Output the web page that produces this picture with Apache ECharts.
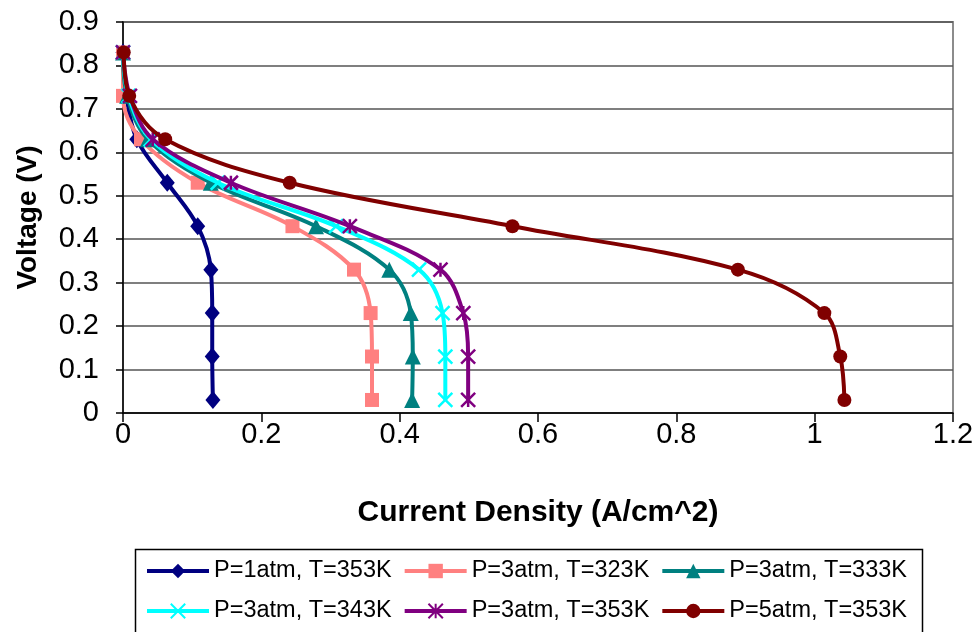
<!DOCTYPE html>
<html>
<head>
<meta charset="utf-8">
<script src="https://cdn.jsdelivr.net/npm/echarts@6/dist/echarts.min.js"></script>
<style>
  html, body { margin: 0; padding: 0; background: #fff; }
  #chart { width: 979px; height: 632px; }
</style>
</head>
<body>
<div id="chart"></div>
<script>
// Cell voltage levels (V), shared by every polarization curve
const voltage = [0.83, 0.73, 0.63, 0.53, 0.43, 0.33, 0.23, 0.13, 0.03];

// Current density (A/cm^2) at each voltage level
const p1T353 = [0, 0.005, 0.02, 0.064, 0.108, 0.127, 0.129, 0.129, 0.13];
const p3T323 = [0, 0, 0.026, 0.108, 0.245, 0.334, 0.358, 0.36, 0.36];
const p3T333 = [0, 0.006, 0.036, 0.127, 0.279, 0.385, 0.416, 0.419, 0.418];
const p3T343 = [0, 0.008, 0.04, 0.137, 0.308, 0.428, 0.462, 0.466, 0.466];
const p3T353 = [0, 0.01, 0.043, 0.156, 0.328, 0.459, 0.492, 0.499, 0.499];
const p5T353 = [0.001, 0.009, 0.061, 0.241, 0.563, 0.889, 1.014, 1.037, 1.043];

const seriesNames = [
  'P=1atm, T=353K', 'P=3atm, T=323K', 'P=3atm, T=333K',
  'P=3atm, T=343K', 'P=3atm, T=353K', 'P=5atm, T=353K'
];

const xTicks = { min: 0, max: 1.2, interval: 0.2 };
const yTicks = { min: 0, max: 0.9, interval: 0.1 };

const FONT = '"Liberation Sans", Arial, sans-serif';

function pairs(xs) {
  return xs.map((x, i) => [x, voltage[i]]);
}

const crossPath = 'path://M0,0L10,10M10,0L0,10';
const starPath = 'path://M0,0L10,10M10,0L0,10M5,0L5,10';

const styles = [
  { color: '#000080', symbol: 'diamond', size: [15, 18], stroke: false },
  { color: '#FF8080', symbol: 'rect', size: 14, stroke: false },
  { color: '#008080', symbol: 'triangle', size: 16, stroke: false },
  { color: '#00FFFF', symbol: crossPath, size: 14, stroke: true },
  { color: '#800080', symbol: starPath, size: 14, stroke: true },
  { color: '#800000', symbol: 'circle', size: 14, stroke: false }
];

const curves = [p1T353, p3T323, p3T333, p3T343, p3T353, p5T353];

const series = curves.map((xs, i) => {
  const s = styles[i];
  return {
    name: seriesNames[i],
    type: 'line',
    data: pairs(xs),
    smooth: 0.35,
    symbol: s.symbol,
    symbolSize: s.size,
    showAllSymbol: true,
    lineStyle: { color: s.color, width: 4 },
    itemStyle: s.stroke
      ? { color: s.color, borderColor: s.color, borderWidth: 2.5 }
      : { color: s.color, borderWidth: 0 },
    emphasis: { disabled: true },
    z: 2 + i
  };
});

const legendCommon = {
  orient: 'horizontal',
  left: 140,
  itemWidth: 62,
  itemHeight: 18,
  itemGap: 11,
  selectedMode: false,
  lineStyle: { width: 4 },
  textStyle: { fontFamily: FONT, fontSize: 23.5, color: '#000' }
};

const chart = echarts.init(document.getElementById('chart'), null, { renderer: 'canvas' });

chart.setOption({
  animation: false,
  backgroundColor: '#fff',
  grid: {
    left: 123, right: 26, top: 22, bottom: 219,
    show: true, borderColor: '#8c8c8c', borderWidth: 2, backgroundColor: 'transparent'
  },
  xAxis: {
    type: 'value',
    min: xTicks.min, max: xTicks.max, interval: xTicks.interval,
    name: 'Current Density (A/cm^2)',
    nameLocation: 'middle',
    nameGap: 85,
    nameTextStyle: { fontFamily: FONT, fontSize: 30, fontWeight: 'bold', color: '#000' },
    axisLine: { show: true, lineStyle: { color: '#000', width: 1.5 } },
    axisTick: { show: true, inside: false, length: 9, lineStyle: { color: '#000', width: 1.5 } },
    axisLabel: { margin: 7, fontFamily: FONT, fontSize: 29, color: '#000' },
    splitLine: { show: false }
  },
  yAxis: {
    type: 'value',
    min: yTicks.min, max: yTicks.max, interval: yTicks.interval,
    name: 'Voltage (V)',
    nameLocation: 'middle',
    nameGap: 81,
    nameRotate: 90,
    nameTextStyle: { fontFamily: FONT, fontSize: 28, fontWeight: 'bold', color: '#000' },
    axisLine: { show: true, lineStyle: { color: '#000', width: 1.5 } },
    axisTick: { show: true, inside: false, length: 7, lineStyle: { color: '#000', width: 1.5 } },
    axisLabel: { margin: 24, fontFamily: FONT, fontSize: 29, color: '#000' },
    splitLine: { show: true, lineStyle: { color: '#555', width: 1.5 } }
  },
  legend: [
    Object.assign({ top: 554, data: seriesNames.slice(0, 3) }, legendCommon),
    Object.assign({ top: 594, data: seriesNames.slice(3, 6) }, legendCommon)
  ],
  graphic: [{
    type: 'rect',
    left: 133, top: 547,
    shape: { width: 787, height: 100 },
    style: { fill: 'none', stroke: '#000', lineWidth: 1.5 },
    silent: true
  }],
  series: series
});
</script>
</body>
</html>
